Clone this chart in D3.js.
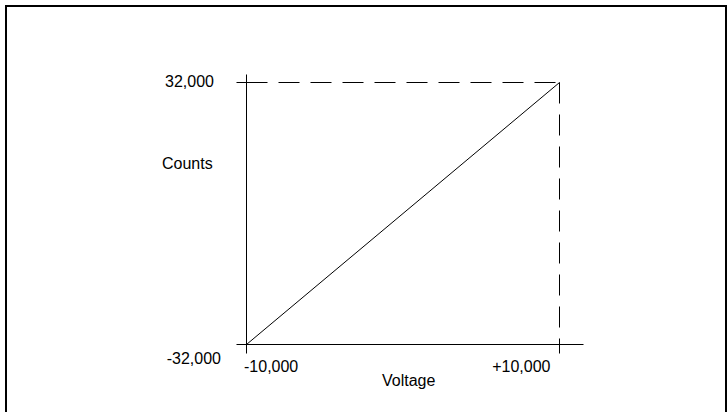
<!DOCTYPE html>
<html>
<head>
<meta charset="utf-8">
<script src="https://cdn.jsdelivr.net/npm/d3@7"></script>
<style>
  body { margin: 0; background: #fff; }
  text { font-family: Arial, "Liberation Sans", sans-serif; font-size: 16px; fill: #000; }
</style>
</head>
<body>
<script>
const w = 727;
const h = 412;

// transfer curve end points
const voltage = [-10000, 10000];
const counts = [-32000, 32000];
const xTickLabels = ["-10,000", "+10,000"];
const yTickLabels = ["-32,000", "32,000"];
const xTitle = "Voltage";
const yTitle = "Counts";

const svg = d3.select("body").append("svg").attr("width", w).attr("height", h);

// frame round the figure, bottom edge runs off the picture
svg.append("rect")
  .attr("x", 6).attr("y", 6)
  .attr("width", 720).attr("height", 420)
  .attr("fill", "none").attr("stroke", "#000").attr("stroke-width", 2);

const x = d3.scaleLinear().domain(voltage).range([246.5, 559.5]);
const y = d3.scaleLinear().domain(counts).range([344.5, 82.5]);

const g = svg.append("g").attr("stroke", "#000").attr("stroke-width", 1).attr("fill", "none");

// axes
g.append("line")
  .attr("x1", x(voltage[0]) - 10).attr("x2", x(voltage[1]) + 24)
  .attr("y1", y(counts[0])).attr("y2", y(counts[0]));
g.append("line")
  .attr("x1", x(voltage[0])).attr("x2", x(voltage[0]))
  .attr("y1", y(counts[1]) - 8).attr("y2", y(counts[0]) + 9);

// ticks
g.append("line")
  .attr("x1", x(voltage[0]) - 10).attr("x2", x(voltage[0]))
  .attr("y1", y(counts[1])).attr("y2", y(counts[1]));
g.append("line")
  .attr("x1", x(voltage[1])).attr("x2", x(voltage[1]))
  .attr("y1", y(counts[0])).attr("y2", y(counts[0]) + 9);

// dashed guides to the top right corner
g.append("line")
  .attr("x1", x(voltage[0])).attr("x2", x(voltage[1]))
  .attr("y1", y(counts[1])).attr("y2", y(counts[1]))
  .attr("stroke-dasharray", "21,11");
g.append("line")
  .attr("x1", x(voltage[1])).attr("x2", x(voltage[1]))
  .attr("y1", y(counts[1])).attr("y2", y(counts[0]))
  .attr("stroke-dasharray", "21,11");

// the transfer line
const line = d3.line().x(d => x(d[0])).y(d => y(d[1]));
g.append("path")
  .datum(d3.zip(voltage, counts))
  .attr("d", line);

// labels
svg.append("text").text(yTickLabels[1])
  .attr("x", 214).attr("y", y(counts[1]) + 4.5).attr("text-anchor", "end");
svg.append("text").text(yTickLabels[0])
  .attr("x", 221).attr("y", y(counts[0]) + 19.5).attr("text-anchor", "end");
svg.append("text").text(xTickLabels[0])
  .attr("x", x(voltage[0]) - 2.5).attr("y", 372);
svg.append("text").text(xTickLabels[1])
  .attr("x", x(voltage[1]) - 9).attr("y", 372).attr("text-anchor", "end");
svg.append("text").text(xTitle)
  .attr("x", 382).attr("y", 386);
svg.append("text").text(yTitle)
  .attr("x", 162).attr("y", 169);
</script>
</body>
</html>
